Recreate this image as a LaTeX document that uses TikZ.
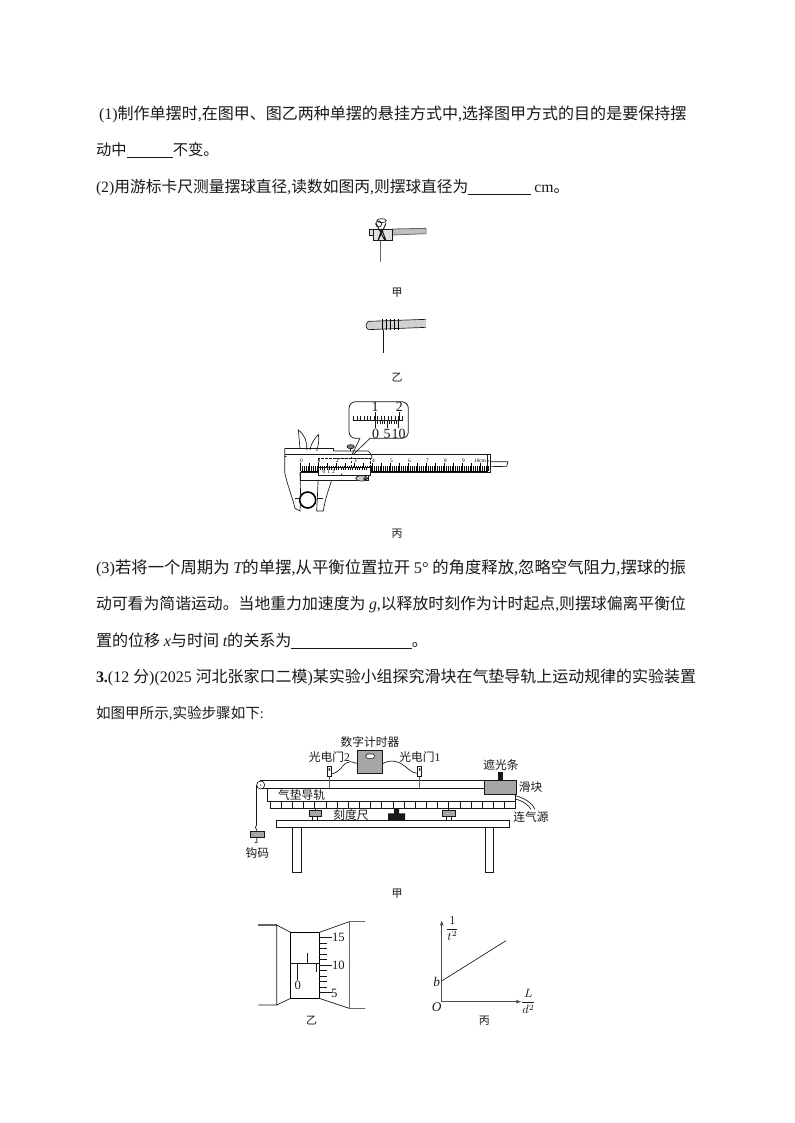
\documentclass[tikz,border=0pt]{standalone}
\usepackage{fontspec}
\usepackage{graphicx}
\usetikzlibrary{arrows.meta}
\setmainfont{Noto Sans CJK SC}
\newfontfamily\lat{Liberation Serif}
\newcommand{\mylat}[1]{{\lat #1}}
\newcommand{\myit}[1]{{\lat\itshape #1}}
\newcommand{\blank}[1]{\rule[-1.5pt]{#1pt}{0.5pt}}
\newcommand{\lineat}[5]{\node[txt,anchor=west] (#1) at (#2,#3) {\resizebox{#4pt}{!}{#5}};}
\tikzset{
 txt/.style={inner sep=0,outer sep=0,font=\fontsize{11.6}{12}\selectfont\color{black!90}},
 figlab/.style={inner sep=0,outer sep=0,font=\fontsize{8.8}{10}\selectfont\color{black!90}},
 subcap/.style={inner sep=0,outer sep=0,font=\fontsize{8.2}{9}\selectfont\color{black!90}},
 ln/.style={line width=0.5pt,draw=black!90},
 gy/.style={line width=0.8pt,draw=black!60},
 grayfill/.style={line width=0.5pt,draw=black!90,fill=black!35},
}
\begin{document}
\begin{tikzpicture}[x=0.75pt,y=-0.75pt]
\useasboundingbox[fill=white] (0,0) rectangle (794,1123);
% text lines
\lineat{l1}{99}{114}{440.5}{\mylat{(1)}制作单摆时\mylat{,}在图甲、图乙两种单摆的悬挂方式中\mylat{,}选择图甲方式的目的是要保持摆}
\lineat{l2}{96}{150}{92}{动中\blank{35}不变。}
\lineat{l3}{96}{188}{355}{\mylat{(2)}用游标卡尺测量摆球直径\mylat{,}读数如图丙\mylat{,}则摆球直径为\blank{46} \mylat{cm}。}
\lineat{l4}{96}{568}{442.5}{\mylat{(3)}若将一个周期为 \myit{T}的单摆\mylat{,}从平衡位置拉开 \mylat{5°} 的角度释放\mylat{,}忽略空气阻力\mylat{,}摆球的振}
\lineat{l5}{96}{604}{442.5}{动可看为简谐运动。当地重力加速度为 \myit{g}\mylat{,}以释放时刻作为计时起点\mylat{,}则摆球偏离平衡位}
\lineat{l6}{96}{641}{249}{置的位移 \myit{x}与时间 \myit{t}的关系为\blank{87}。}
\lineat{l7}{96}{677}{450}{{\lat\bfseries 3.}\mylat{(12 }分\mylat{)(2025 }河北张家口二模\mylat{)}某实验小组探究滑块在气垫导轨上运动规律的实验装置}
\lineat{l8}{96}{713}{126}{如图甲所示\mylat{,}实验步骤如下\mylat{:}}
\node[subcap] (c1) at (397,293) {甲};
\node[subcap] (c2) at (397,378) {乙};
\node[subcap] (c3) at (397,534) {丙};
\node[subcap] (c4) at (397,894) {甲};

% figure jia / yi (zoom coordinates)
\begin{scope}[shift={(340,205)},x=0.25pt,y=-0.25pt]
 \draw[gy,fill=black!25,line width=.6pt] (158,72) -- (258,70) -- (258,86) -- (158,90) -- cycle;
 \draw[ln,fill=black!12] (100,72) rectangle (156,107);
 \draw[ln,fill=black!12] (88,74) rectangle (100,92);
 \draw[ln,line width=.7pt] (125,72) -- (114,107) (125,72) -- (138,107) (108,55) -- (135,107) (138,55) -- (114,107);
 \draw[ln] (125,47) ellipse (14 and 6);
 \draw[ln] (116,57) circle (9);
 \draw[gy] (122,107) -- (122,172);
 % yi
 \draw[ln,fill=black!18] (258,343) -- (85,349) .. controls (76,355) and (76,368) .. (85,374) -- (258,367);
 \foreach \X in {128,140,150,163,175} \draw[line width=.7pt] (\X,342) -- (\X,374);
 \draw[ln] (130,374) -- (130,443);
\end{scope}

% caliper (zoom coordinates)
\begin{scope}[shift={(270,395)},x=0.25pt,y=-0.25pt]
 % callout
 \draw[ln,line width=.6pt,rounded corners=5pt,fill=white] (270,130) -- (237,130) -- (237,20) -- (415,20) -- (415,130) -- (300,130);
 \draw[ln] (270,130) -- (243,185) -- (300,130);
 \draw[ln] (248,75) -- (400,75);
 \foreach \k in {0,...,14} {\draw[ln,line width=.35pt] (250+\k*10.4,75) -- (250+\k*10.4,63);}
 \draw[ln] (315,75) -- (315,50) (388,75) -- (388,50);
 \draw[ln] (316,100) -- (316,75);
 \foreach \k in {0,...,10} {\draw[ln,line width=.35pt] (316+\k*7,75) -- (316+\k*7,88);}
 \draw[ln] (351,75) -- (351,100) (386,75) -- (386,100);
 \node[figlab] (m1) at (315,36) {\mylat{\fontsize{10.5}{10.5}\selectfont 1}};
 \node[figlab] (m2) at (388,36) {\mylat{\fontsize{10.5}{10.5}\selectfont 2}};
 \node[figlab] (v0) at (317,116) {\mylat{\fontsize{10.5}{10.5}\selectfont 0}};
 \node[figlab] (v5) at (351,116) {\mylat{\fontsize{10.5}{10.5}\selectfont 5}};
 \node[figlab] (v10) at (386,116) {\mylat{\fontsize{10.5}{10.5}\selectfont 10}};
 % depth rod
 \draw[ln,fill=white] (660,200) -- (714,200) -- (710,214) -- (660,215);
 % jaws upper
 \draw[ln,fill=white] (90,160) -- (85,105) .. controls (105,120) and (112,140) .. (110,165);
 \draw[ln,fill=white] (120,165) .. controls (122,145) and (135,130) .. (145,118) .. controls (148,140) and (145,150) .. (140,168);
 % jaws lower
 \draw[ln,fill=white] (44,160) -- (44,232) .. controls (52,270) and (65,300) .. (75,340) -- (90,348) -- (92,310) -- (90,232);
 \draw[ln,fill=white] (145,240) -- (142,310) -- (140,348) -- (160,348) .. controls (165,310) and (178,280) .. (188,245);
 \draw[ln] (44,160) -- (190,160) -- (190,168) (44,185) -- (92,185);
 % beam
 \draw[ln,line width=.7pt,fill=white] (44,178) -- (660,178) -- (660,232) -- (90,232);
 \draw[ln] (190,168) -- (295,168) -- (305,180) -- (305,190) -- (190,190);
 \draw[ln,fill=white] (90,232) -- (295,232) -- (295,255) -- (90,255) -- cycle;
 \draw[ln] (652,178) -- (652,232);
 \fill (655,198) circle (1.8) (655,218) circle (1.8);
 \draw[ln,dashed,dash pattern=on 2pt off 1pt] (145,190) rectangle (300,235);
 \draw[ln,dashed,dash pattern=on 2pt off 1pt] (243,185) -- (243,238);
 % main scale
 \foreach \k in {0,...,104} {\pgfmathsetmacro{\xx}{92+\k*5.4}\pgfmathtruncatemacro{\mym}{mod(\k,5)}\pgfmathsetmacro{\myt}{\mym==0?205:214}\draw[line width=.3pt] (\xx,\myt) -- (\xx,228);}
 \draw[line width=.4pt] (92,228) -- (652,228);
 \foreach \k/\lab in {0/0,1/1,2/2,3/3,4/4,5/5,6/6,7/7,8/8,9/9}{\node[inner sep=0,font=\fontsize{4}{4}\selectfont\lat] (s\k) at (94+\k*54,196) {\lab};}
 \node[inner sep=0,font=\fontsize{4}{4}\selectfont\lat] (s10) at (630,196) {10cm};
 % vernier
 \draw[ln,fill=white] (145,218) rectangle (300,240);
 \foreach \k in {0,...,20} {\draw[line width=.3pt] (150+\k*7,218) -- (150+\k*7,226);}
 \foreach \k/\lab in {0/0,1/1,2/2}{\node[inner sep=0,font=\fontsize{4}{4}\selectfont\lat] (vs\k) at (162+\k*14,231) {\lab};}
 \fill (215,238) circle (2);
 % screws
 \draw[ln,fill=black!50] (242,155) ellipse (11 and 6);
 \draw[ln] (242,161) -- (242,168);
 \draw[ln,fill=black!20] (275,250) ellipse (18 and 8);
 \draw[ln,fill=black!50] (285,252) circle (4);
 % ball
 \draw[line width=1.2pt,fill=white] (113,315) circle (24);
 \draw[ln] (75,310) -- (90,310) (140,310) -- (160,310);
\end{scope}

% air track (zoom coordinates)
\begin{scope}[shift={(240,730)},x=0.25pt,y=-0.25pt]
 \draw[ln,fill=white] (110,270) rectangle (808,293);
 \draw[ln,fill=white] (157,293) rectangle (184,427);
 \draw[ln,fill=white] (737,293) rectangle (760,427);
 \draw[ln,fill=white] (62,152) rectangle (733,175);
 \draw[ln,fill=white] (82,175) rectangle (825,213);
 \draw[ln,fill=white] (90,213) rectangle (825,235);
 \foreach \k in {1,...,21} {\draw[ln] (90+\k*33.5,213) -- (90+\k*33.5,235);}
 \draw[grayfill] (733,152) rectangle (830,193);
 \fill[black!90] (775,127) rectangle (790,152);
 \draw[ln,fill=white] (62,165) circle (12);
 \fill (62,165) circle (2);
 \draw[ln] (50,165) -- (50,285);
 \draw[ln] (50,285) .. controls (44,290) and (44,296) .. (50,298) -- (50,305);
 \draw[grayfill] (32,305) rectangle (72,322);
 \draw[ln] (50,322) -- (50,330) .. controls (56,334) and (50,342) .. (44,338);
 % timer
 \draw[grayfill] (352,60) rectangle (427,130);
 \draw[ln,fill=white,rounded corners=1pt] (378,72) rectangle (403,85);
 % gates
 \draw[ln,fill=white] (262,108) rectangle (273,140);
 \draw[ln,fill=white] (533,108) rectangle (545,140);
 \fill (266,115) rectangle (270,122) (537,115) rectangle (541,122);
 \draw[line width=1pt,draw=black!60] (268,140) -- (268,175) (539,140) -- (539,175);
 \draw[ln] (273,133) .. controls (305,125) and (310,95) .. (330,95) .. controls (342,95) and (345,102) .. (352,100);
 \draw[ln] (427,102) .. controls (445,90) and (465,90) .. (485,102) .. controls (505,115) and (515,130) .. (533,130);
 % feet
 \draw[ln] (218,258) -- (218,270) (233,258) -- (233,270) (618,258) -- (618,270) (633,258) -- (633,270);
 \draw[ln] (225,235) -- (225,240) (625,235) -- (625,240);
 \draw[grayfill] (207,241) rectangle (243,258);
 \draw[grayfill] (607,241) rectangle (645,258);
 \fill[black!90] (462,235) rectangle (477,250) (444,250) rectangle (495,270);
 % air hose
 \draw[ln] (825,197) .. controls (860,205) and (880,225) .. (885,238);
 \draw[ln] (825,207) .. controls (850,212) and (868,228) .. (873,238);
 \node[figlab] (t1) at (390,35) {数字计时器};
 \node[figlab] (t2) at (268,80) {光电门\mylat{2}};
 \node[figlab] (t3) at (540,80) {光电门\mylat{1}};
 \node[figlab] (t4) at (783,105) {遮光条};
 \node[figlab] (t5) at (872,170) {滑块};
 \node[figlab] (t6) at (873,260) {连气源};
 \node[figlab] (t7) at (185,195) {气垫导轨};
 \node[figlab] (t8) at (333,255) {刻度尺};
 \node[figlab] (t9) at (52,368) {钩码};
\end{scope}

% vernier and graph (zoom coordinates)
\begin{scope}[shift={(250,905)},x=0.25pt,y=-0.25pt]
 \draw[gy] (25,60) -- (80,60);
 \draw[ln] (80,60) -- (122,82) (80,60) -- (80,300) -- (25,300) (80,300) -- (122,280);
 \draw[line width=.7pt] (122,82) rectangle (208,280);
 \draw[ln] (208,82) -- (298,50);
 \draw[gy] (298,50) -- (345,50);
 \draw[ln] (298,50) -- (298,310) -- (345,310) (208,280) -- (298,310);
 \foreach \k in {0,...,10} {\draw[ln] (208,98+\k*16.5) -- (230,98+\k*16.5);}
 \draw[ln] (208,98) -- (245,98) (208,180) -- (245,180) (208,263) -- (245,263);
 \draw[ln] (122,176) -- (208,176) (172,143) -- (172,176) (143,176) -- (143,225) (200,176) -- (200,200);
 \node[figlab] (v15) at (265,98) {\mylat{\fontsize{9.5}{10}\selectfont 15}};
 \node[figlab] (vt) at (265,181) {\mylat{\fontsize{9.5}{10}\selectfont 10}};
 \node[figlab] (vf) at (253,264) {\mylat{\fontsize{9.5}{10}\selectfont 5}};
 \node[figlab] (vz) at (143,241) {\mylat{\fontsize{9.5}{10}\selectfont 0}};
 \node[subcap] (cy) at (185,348) {乙};
 % graph
 \coordinate (O) at (575,290);
 \coordinate (Y) at (575,45);
 \coordinate (X) at (815,290);
 \draw[gy,-{Latex[length=4pt,width=3pt]},draw=black!70] (O) -- (Y);
 \draw[gy,-{Latex[length=4pt,width=3pt]},draw=black!70] (O) -- (X);
 \draw[ln] (575,228) -- (768,107);
 \node[figlab] (g1) at (607,70) {\fontsize{9}{9}\selectfont $\displaystyle\frac{1}{t^2}$};
 \node[figlab] (gb) at (560,230) {\myit{\fontsize{10}{10}\selectfont b}};
 \node[figlab] (gO) at (560,305) {\myit{\fontsize{10}{10}\selectfont O}};
 \node[figlab] (gL) at (835,290) {\fontsize{9}{9}\selectfont $\displaystyle\frac{L}{d^2}$};
 \node[subcap] (cb) at (703,348) {丙};
\end{scope}
\end{tikzpicture}
\end{document}
